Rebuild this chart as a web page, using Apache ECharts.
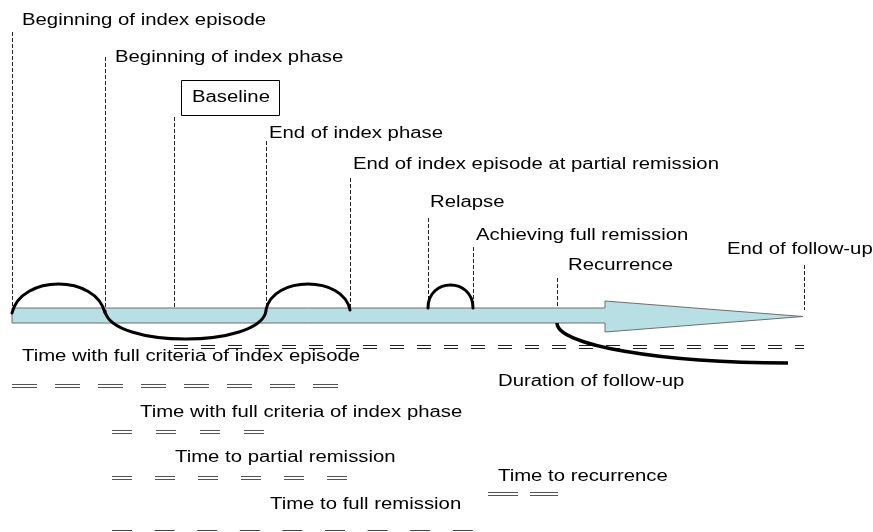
<!DOCTYPE html>
<html><head><meta charset="utf-8">
<script src="https://cdn.jsdelivr.net/npm/echarts@6/dist/echarts.min.js"></script>
<style>html,body{margin:0;padding:0;background:#fff}#c{width:873px;height:532px}</style>
</head><body><div id="c"></div>
<script>
// ---- data: events on the timeline (time units = horizontal axis units) ----
const eventNames = ['Beginning of index episode', 'Beginning of index phase', 'Baseline', 'End of index phase',
  'End of index episode at partial remission', 'Relapse', 'Achieving full remission', 'Recurrence', 'End of follow-up'];
const eventTimes = [12, 105, 174, 266, 350, 428, 473, 557, 804];

// ---- data: intervals ----
const intervalNames = ['Duration of follow-up', 'Time with full criteria of index episode', 'Time with full criteria of index phase',
  'Time to partial remission', 'Time to recurrence', 'Time to full remission'];
const intervalStarts = [174, 12, 112, 112, 488, 112];
const intervalEnds = [804, 338, 265, 350, 558, 473];

// ---- data: disease course (symptom arcs) ----
const arcStarts = [12, 105, 266, 428];
const arcEnds = [105, 266, 350, 473];
const arcHeights = [29, -28, 26, 23];   // + above timeline, - below
const recurrenceStart = [557, 323];
const recurrenceEnd = [788, 363];
const timelineStart = 12;
const timelineEnd = 803;

// ---- layout (positions / styles) ----
const eventLineTop = [32, 57, 117, 141, 178, 218, 247, 278, 265];
const eventLineBottom = [316, 308, 308, 308, 308, 308, 308, 308, 310];
const eventLabelX = [22, 115, 192, 269, 353, 430, 476, 568, 727];
const eventLabelY = [21, 58, 98, 134, 165, 203, 236, 266, 250];
const arcBase = [313, 311, 310, 308];
const arcSlant = [0.1, 0.04, 0.08, 0.0];
const intervalLineY = [345, 384, 430, 476, 492, 530];
const intervalLabelX = [498, 22, 140, 175, 498, 270];
const intervalLabelY = [382, 357, 413, 458, 477, 505];
const intervalDash = [[14, 13], [25, 18], [20, 24], [20, 23], [30, 12], [20, 22.6]];
const intervalColor = ['#222', '#555', '#555', '#555', '#555', '#444'];
const barTop = 308, barBottom = 323, headStart = 605, headTop = 301, headBottom = 332;

const FONT = '16px "Liberation Sans", Arial, sans-serif';
const SX = 1.27;
function textEl(x, y, text) {
  return { type: 'text', x: x, y: y, scaleX: SX,
    style: { text: text, font: FONT, fill: '#000', align: 'left', verticalAlign: 'middle' } };
}
const px = v => Math.round(v) + 0.5;

const chart = echarts.init(document.getElementById('c'), null, { renderer: 'canvas' });
const option = {
  animation: false,
  backgroundColor: '#fff',
  grid: { left: 0, right: 0, top: 0, bottom: 0 },
  xAxis: { type: 'value', min: 0, max: 873, show: false },
  yAxis: { type: 'value', min: 0, max: 532, inverse: true, show: false },
  series: [
    { // vertical dashed event markers
      type: 'custom', silent: true, z: 1,
      data: eventTimes.map((t, i) => [t, i]),
      renderItem: function (params, api) {
        const i = api.value(1), t = api.value(0);
        const a = api.coord([t, eventLineTop[i]]), b = api.coord([t, eventLineBottom[i]]);
        return { type: 'line', shape: { x1: px(a[0]), y1: a[1], x2: px(b[0]), y2: b[1] },
          style: { stroke: '#222', lineWidth: 1, lineDash: [4, 2] } };
      }
    },
    { // timeline arrow
      type: 'custom', silent: true, z: 2,
      data: [[timelineStart, timelineEnd]],
      renderItem: function (params, api) {
        const s = api.value(0), e = api.value(1);
        const pts = [[s, barTop], [headStart, barTop], [headStart, headTop], [e, (headTop + headBottom) / 2],
          [headStart, headBottom], [headStart, barBottom], [s, barBottom]].map(p => api.coord(p));
        return { type: 'polygon', shape: { points: pts },
          style: { fill: '#b8dfe3', stroke: '#6f6f6f', lineWidth: 1 } };
      }
    },
    { // symptom arcs
      type: 'custom', silent: true, z: 3,
      data: arcStarts.map((s, i) => [s, arcEnds[i], arcHeights[i], i]),
      renderItem: function (params, api) {
        const s = api.value(0), e = api.value(1), h = api.value(2), i = api.value(3);
        const base = arcBase[i];
        const p0 = api.coord([s, base]), p1 = api.coord([e, base]), pk = api.coord([(s + e) / 2, base - h]);
        const w = p1[0] - p0[0];
        const cy = p0[1] + (pk[1] - p0[1]) * 4 / 3;
        const a = arcSlant[i] * w;
        const d = 'M' + p0[0] + ',' + p0[1] +
          ' C' + (p0[0] + a) + ',' + cy + ' ' + (p1[0] - a) + ',' + cy + ' ' + p1[0] + ',' + p1[1];
        return { type: 'path', shape: { pathData: d },
          style: { fill: 'none', stroke: '#000', lineWidth: 3, lineCap: 'round' } };
      }
    },
    { // recurrence curve
      type: 'custom', silent: true, z: 3,
      data: [[recurrenceStart[0], recurrenceStart[1], recurrenceEnd[0], recurrenceEnd[1]]],
      renderItem: function (params, api) {
        const a = api.coord([api.value(0), api.value(1)]), b = api.coord([api.value(2), api.value(3)]);
        const k = 0.5523;
        const d = 'M' + a[0] + ',' + a[1] + ' C' + a[0] + ',' + (a[1] + k * (b[1] - a[1])) + ' ' +
          (b[0] - k * (b[0] - a[0])) + ',' + b[1] + ' ' + b[0] + ',' + b[1];
        return { type: 'path', shape: { pathData: d },
          style: { fill: 'none', stroke: '#000', lineWidth: 3.5, lineCap: 'butt' } };
      }
    },
    { // interval double dashed lines
      type: 'custom', silent: true, z: 2,
      data: intervalStarts.map((s, i) => [s, intervalEnds[i], i]),
      renderItem: function (params, api) {
        const s = api.value(0), e = api.value(1), i = api.value(2);
        const children = [];
        [0, 3].forEach(off => {
          const a = api.coord([s, intervalLineY[i] + off]), b = api.coord([e, intervalLineY[i] + off]);
          children.push({ type: 'line', shape: { x1: a[0], y1: px(a[1]), x2: b[0], y2: px(b[1]) },
            style: { stroke: intervalColor[i], lineWidth: 1, lineDash: intervalDash[i] } });
        });
        return { type: 'group', children: children };
      }
    },
    { // event labels
      type: 'custom', silent: true, z: 5,
      data: eventTimes.map((t, i) => [t, i]),
      renderItem: function (params, api) {
        const i = api.value(1);
        const p = api.coord([eventLabelX[i], eventLabelY[i]]);
        if (eventNames[i] === 'Baseline') {
          const r0 = api.coord([eventLabelX[i] - 11, eventLabelY[i] - 18]);
          const r1 = api.coord([eventLabelX[i] + 87, eventLabelY[i] + 17]);
          return { type: 'group', children: [
            { type: 'rect', shape: { x: px(r0[0]), y: px(r0[1]), width: Math.round(r1[0] - r0[0]), height: Math.round(r1[1] - r0[1]) },
              style: { fill: '#fff', stroke: '#000', lineWidth: 1 } },
            textEl(p[0], p[1], eventNames[i])
          ] };
        }
        return textEl(p[0], p[1], eventNames[i]);
      }
    },
    { // interval labels
      type: 'custom', silent: true, z: 5,
      data: intervalStarts.map((s, i) => [s, i]),
      renderItem: function (params, api) {
        const i = api.value(1);
        const p = api.coord([intervalLabelX[i], intervalLabelY[i]]);
        return textEl(p[0], p[1], intervalNames[i]);
      }
    }
  ]
};
chart.setOption(option);
</script>
</body></html>
